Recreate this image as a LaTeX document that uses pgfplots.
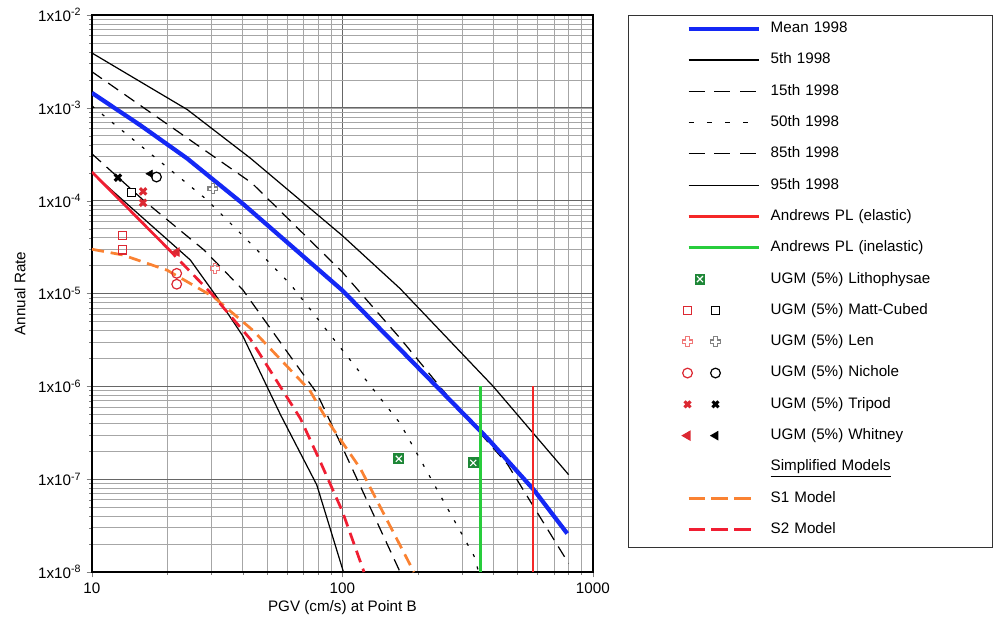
\documentclass[border=0pt]{standalone}
\usepackage{fontspec}
\setmainfont{Liberation Sans}
\usepackage{pgfplots}
\pgfplotsset{compat=1.18}

\definecolor{meanblue}{RGB}{20,40,245}
\definecolor{andred}{RGB}{245,40,40}
\definecolor{andgreen}{RGB}{40,205,60}
\definecolor{s1orange}{RGB}{250,130,50}
\definecolor{s2red}{RGB}{240,30,50}
\definecolor{mkred}{RGB}{220,40,50}
\definecolor{lenred}{RGB}{240,120,120}
\definecolor{lengray}{RGB}{130,130,130}
\definecolor{litgreen}{RGB}{30,135,55}

% outlined plus (Len)
\pgfdeclareplotmark{gcross}{%
  \pgfpathmoveto{\pgfqpoint{-0.35\pgfplotmarksize}{\pgfplotmarksize}}%
  \pgfpathlineto{\pgfqpoint{0.35\pgfplotmarksize}{\pgfplotmarksize}}%
  \pgfpathlineto{\pgfqpoint{0.35\pgfplotmarksize}{0.35\pgfplotmarksize}}%
  \pgfpathlineto{\pgfqpoint{\pgfplotmarksize}{0.35\pgfplotmarksize}}%
  \pgfpathlineto{\pgfqpoint{\pgfplotmarksize}{-0.35\pgfplotmarksize}}%
  \pgfpathlineto{\pgfqpoint{0.35\pgfplotmarksize}{-0.35\pgfplotmarksize}}%
  \pgfpathlineto{\pgfqpoint{0.35\pgfplotmarksize}{-\pgfplotmarksize}}%
  \pgfpathlineto{\pgfqpoint{-0.35\pgfplotmarksize}{-\pgfplotmarksize}}%
  \pgfpathlineto{\pgfqpoint{-0.35\pgfplotmarksize}{-0.35\pgfplotmarksize}}%
  \pgfpathlineto{\pgfqpoint{-\pgfplotmarksize}{-0.35\pgfplotmarksize}}%
  \pgfpathlineto{\pgfqpoint{-\pgfplotmarksize}{0.35\pgfplotmarksize}}%
  \pgfpathlineto{\pgfqpoint{-0.35\pgfplotmarksize}{0.35\pgfplotmarksize}}%
  \pgfpathclose\pgfusepathqstroke}
% green box with white cross (Lithophysae)
\pgfdeclareplotmark{gbox}{%
  \pgfpathrectangle{\pgfqpoint{-\pgfplotmarksize}{-\pgfplotmarksize}}{\pgfqpoint{2\pgfplotmarksize}{2\pgfplotmarksize}}%
  \pgfusepathqfill
  \pgfsetstrokecolor{white}\pgfsetlinewidth{0.8pt}%
  \pgfpathmoveto{\pgfqpoint{-0.55\pgfplotmarksize}{-0.55\pgfplotmarksize}}%
  \pgfpathlineto{\pgfqpoint{0.55\pgfplotmarksize}{0.55\pgfplotmarksize}}%
  \pgfpathmoveto{\pgfqpoint{-0.55\pgfplotmarksize}{0.55\pgfplotmarksize}}%
  \pgfpathlineto{\pgfqpoint{0.55\pgfplotmarksize}{-0.55\pgfplotmarksize}}%
  \pgfusepathqstroke}

\tikzset{
  thinblk/.style={black, line width=0.8pt},
  dash85/.style={black, line width=0.8pt, dash pattern=on 8pt off 5pt},
  dot50/.style={black, line width=0.8pt, dash pattern=on 2pt off 6.5pt},
  sdash/.style={line width=1.8pt, dash pattern=on 8pt off 4.5pt},
}
\pgfplotsset{
  lgline/.style={legend image code/.code={%
    \path[draw=none] (0pt,0pt) -- (85.5pt,0pt);
    \draw[##1] (39.5pt,0pt) -- (85.5pt,0pt);}},
}

\newcommand{\twomarks}[2]{\path[draw=none] (0pt,0pt) -- (85.5pt,0pt);
  \draw[#1] plot coordinates {(38.8pt,0pt)};
  \draw[#2] plot coordinates {(57.2pt,0pt)};}

\begin{document}
\begin{tikzpicture}
\begin{axis}[
  xmode=log, ymode=log,
  xmin=10, xmax=1000, ymin=1e-8, ymax=1e-2,
  scale only axis, width=329.6pt, height=366.5pt,
  grid=both,
  major grid style={black!60, line width=0.6pt},
  minor grid style={black!35, line width=0.45pt},
  axis line style={line width=0.9pt},
  tick align=outside, tick pos=left,
  major tick length=3.5pt, minor tick length=1.8pt,
  xtick={10,100,1000}, xticklabels={10,100,1000},
  ytick={1e-8,1e-7,1e-6,1e-5,1e-4,1e-3,1e-2},
  yticklabels={1x10\textsuperscript{-8},1x10\textsuperscript{-7},1x10\textsuperscript{-6},1x10\textsuperscript{-5},1x10\textsuperscript{-4},1x10\textsuperscript{-3},1x10\textsuperscript{-2}},
  xlabel={PGV (cm/s) at Point B},
  ylabel={Annual Rate},
  every axis x label/.style={at={(axis description cs:0.5,-0.0646)}, anchor=center},
  every axis y label/.style={at={(axis description cs:-0.1437,0.5)}, rotate=90, anchor=center},
  legend cell align=left,
  legend style={
    at={(axis description cs:1.0699,1)}, anchor=north west,
    draw=black!80, line width=0.9pt,
    inner xsep=0pt, inner ysep=3.4pt,
    row sep=10.4pt, column sep=3.3pt,
    nodes={text width=142.7pt, text height=7.2pt, text depth=2pt,
           inner ysep=0.5pt, inner xsep=3.33pt},
  },
]
% 95th
\addplot[thinblk, forget plot] coordinates {(10,3.9e-3) (24,9.6e-4) (43,2.86e-4) (100,4.2e-5) (170,1.13e-5) (400,1.0e-6) (800,1.12e-7)};
% 85th
\addplot[dash85, forget plot] coordinates {(10,2.45e-3) (43.5,1.55e-4) (100,1.7e-5) (170,3.3e-6) (266,7.6e-7) (456,1.45e-7) (800,1.24e-8)};
% 50th
\addplot[dot50, forget plot] coordinates {(10,1.05e-3) (28.7,1.03e-4) (44.8,3.1e-5) (62,1.26e-5) (170,4.0e-7) (335,1.5e-8) (350,1.0e-8)};
% 15th
\addplot[dash85, forget plot] coordinates {(10,3.2e-4) (16,1.02e-4) (28,2.95e-5) (40,1.1e-5) (62,2.1e-6) (79,8.5e-7) (100,2.2e-7) (170,1.0e-8)};
% 5th
\addplot[thinblk, forget plot] coordinates {(10,2.0e-4) (24.7,2.3e-5) (31.5,9.2e-6) (40,3.5e-6) (56.5,5.0e-7) (79,8.7e-8) (101,1.0e-8)};
% S1 model
\addplot[s1orange, sdash, forget plot] coordinates {(10,3.0e-5) (13.3,2.6e-5) (20,1.78e-5) (30.6,9.2e-6) (44,4.0e-6) (74,9.1e-7) (87,4.3e-7) (118,1.3e-7) (193,1.0e-8)};
% S2 model
\addplot[s2red, line width=1.8pt, forget plot] coordinates {(10,2.04e-4) (20,3.1e-5)};
\addplot[s2red, sdash, forget plot] coordinates {(20,3.1e-5) (30,1.0e-5) (43,3.2e-6) (68,4.5e-7) (82,1.5e-7) (100,4.5e-8) (122,1.0e-8)};
% Mean
\addplot[meanblue, line width=2.8pt, forget plot] coordinates {(10,1.45e-3) (15.6,6.5e-4) (24,2.85e-4) (40,9.3e-5) (100,1.08e-5) (205,1.5e-6) (380,2.75e-7) (583,7.6e-8) (790,2.6e-8)};
% Andrews PL
\addplot[andgreen, line width=1.8pt, forget plot] coordinates {(357,1e-8) (357,1e-6)};
\addplot[andred, line width=1.8pt, forget plot] coordinates {(577,1e-8) (577,1e-6)};
% UGM points
\addplot[only marks, mark=gbox, mark size=3.6pt, litgreen, forget plot] coordinates {(168,1.66e-7) (333,1.5e-7)};
\addplot[only marks, mark=square, mark size=2.7pt, mkred, line width=0.8pt, forget plot] coordinates {(13.26,4.2e-5) (13.26,2.95e-5)};
\addplot[only marks, mark=square, mark size=2.7pt, black, line width=0.8pt, forget plot] coordinates {(14.4,1.22e-4)};
\addplot[only marks, mark=gcross, mark size=3.2pt, lenred, line width=0.8pt, forget plot] coordinates {(31,1.86e-5)};
\addplot[only marks, mark=gcross, mark size=3.2pt, lengray, line width=0.8pt, forget plot] coordinates {(30.4,1.35e-4)};
\addplot[only marks, mark=o, mark size=3.2pt, mkred, line width=0.8pt, forget plot] coordinates {(21.8,1.65e-5) (21.8,1.26e-5)};
\addplot[only marks, mark=o, mark size=3.2pt, black, line width=0.8pt, forget plot] coordinates {(18.1,1.8e-4)};
\addplot[only marks, mark=triangle*, mark size=3.3pt, mark options={rotate=90}, mkred, forget plot] coordinates {(21.8,2.8e-5)};
\addplot[only marks, mark=triangle*, mark size=2.8pt, mark options={rotate=90}, black, forget plot] coordinates {(17.1,1.95e-4)};
\addplot[only marks, mark=x, mark size=3pt, mkred, line width=2pt, forget plot] coordinates {(16,1.26e-4) (16,9.5e-5)};
\addplot[only marks, mark=x, mark size=3pt, black, line width=2pt, forget plot] coordinates {(12.7,1.77e-4)};

% legend
\addlegendimage{lgline, meanblue, line width=2.8pt}
\addlegendentry{Mean 1998}
\addlegendimage{lgline, thinblk}
\addlegendentry{5th 1998}
\addlegendimage{lgline, thinblk, dash pattern=on 10.5pt off 6.5pt}
\addlegendentry{15th 1998}
\addlegendimage{lgline, thinblk, dash pattern=on 3.3pt off 8.7pt}
\addlegendentry{50th 1998}
\addlegendimage{lgline, thinblk, dash pattern=on 10.5pt off 6.5pt}
\addlegendentry{85th 1998}
\addlegendimage{lgline, thinblk}
\addlegendentry{95th 1998}
\addlegendimage{lgline, andred, line width=1.8pt}
\addlegendentry{Andrews PL (elastic)}
\addlegendimage{lgline, andgreen, line width=1.8pt}
\addlegendentry{Andrews PL (inelastic)}
\addlegendimage{legend image code/.code={\path[draw=none] (0pt,0pt) -- (85.5pt,0pt);
  \draw[litgreen, mark=gbox, mark size=3.6pt] plot coordinates {(47pt,0pt)};}}
\addlegendentry{UGM (5\%) Lithophysae}
\addlegendimage{legend image code/.code={\twomarks{mkred, line width=0.8pt, mark=square, mark size=2.7pt}{black, line width=0.8pt, mark=square, mark size=2.7pt}}}
\addlegendentry{UGM (5\%) Matt-Cubed}
\addlegendimage{legend image code/.code={\twomarks{lenred, line width=0.8pt, mark=gcross, mark size=3.2pt}{lengray, line width=0.8pt, mark=gcross, mark size=3.2pt}}}
\addlegendentry{UGM (5\%) Len}
\addlegendimage{legend image code/.code={\twomarks{mkred, line width=0.8pt, mark=o, mark size=3.2pt}{black, line width=0.8pt, mark=o, mark size=3.2pt}}}
\addlegendentry{UGM (5\%) Nichole}
\addlegendimage{legend image code/.code={\twomarks{mkred, line width=2pt, mark=x, mark size=2.8pt}{black, line width=2pt, mark=x, mark size=2.8pt}}}
\addlegendentry{UGM (5\%) Tripod}
\addlegendimage{legend image code/.code={\twomarks{mkred, mark=triangle*, mark size=3.2pt, mark options={rotate=90}}{black, mark=triangle*, mark size=2.8pt, mark options={rotate=90}}}}
\addlegendentry{UGM (5\%) Whitney}
\addlegendimage{legend image code/.code={\path[draw=none] (0pt,0pt) -- (85.5pt,0pt);}}
\addlegendentry{\underline{Simplified Models}}
\addlegendimage{legend image code/.code={\path[draw=none] (0pt,0pt) -- (85.5pt,0pt);
  \draw[s1orange, line width=1.8pt, dash pattern=on 11pt off 4pt] (39.5pt,0pt) -- (80.5pt,0pt);}}
\addlegendentry{S1 Model}
\addlegendimage{legend image code/.code={\path[draw=none] (0pt,-8.4pt) -- (85.5pt,0pt);
  \draw[s2red, line width=1.8pt, dash pattern=on 11pt off 4pt] (39.5pt,0pt) -- (80.5pt,0pt);}}
\addlegendentry{S2 Model}
\end{axis}
\path (current axis.south west) ++(-60.5pt,-30.9pt) rectangle ++(662.6pt,407.3pt);
\end{tikzpicture}
\end{document}
